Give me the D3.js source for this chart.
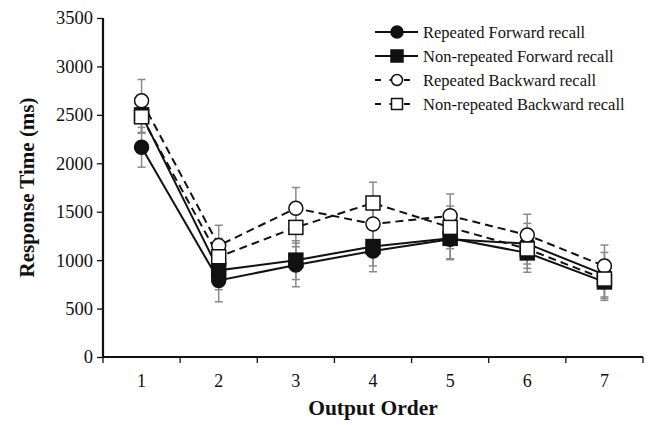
<!DOCTYPE html>
<html>
<head>
<meta charset="utf-8">
<script src="https://cdn.jsdelivr.net/npm/d3@7"></script>
<style>
  body { margin: 0; background: #fff; }
  text { font-family: "Liberation Serif", "Times New Roman", serif; }
</style>
</head>
<body>
<svg width="649" height="425"></svg>
<script>
// data
const orders = [1, 2, 3, 4, 5, 6, 7];
const yTicks = [0, 500, 1000, 1500, 2000, 2500, 3000, 3500];

const repFwd = [2165, 790, 950, 1095, 1215, 1170, 850];
const nonRepFwd = [2500, 895, 1000, 1140, 1225, 1075, 775];
const repBwd = [2645, 1150, 1535, 1373, 1458, 1259, 939];
const nonRepBwd = [2480, 1035, 1338, 1590, 1338, 1115, 805];

const repFwdErr = [205, 220, 225, 215, 210, 210, 230];
const nonRepFwdErr = [180, 200, 200, 200, 210, 200, 190];
const repBwdErr = [220, 210, 215, 200, 225, 215, 217];
const nonRepBwdErr = [170, 190, 200, 215, 220, 200, 200];

const seriesNames = ["Repeated Forward recall", "Non-repeated Forward recall",
  "Repeated Backward recall", "Non-repeated Backward recall"];

const series = [
  { name: seriesNames[0], values: repFwd, err: repFwdErr, shape: "circle", filled: true, dashed: false },
  { name: seriesNames[1], values: nonRepFwd, err: nonRepFwdErr, shape: "square", filled: true, dashed: false },
  { name: seriesNames[2], values: repBwd, err: repBwdErr, shape: "circle", filled: false, dashed: true },
  { name: seriesNames[3], values: nonRepBwd, err: nonRepBwdErr, shape: "square", filled: false, dashed: true }
];

const svg = d3.select("svg");
const margin = { left: 103, right: 6, top: 18, bottom: 68 };
const width = 649, height = 425;

const x = d3.scaleBand()
  .domain(orders)
  .range([margin.left, width - margin.right]);

const y = d3.scaleLinear()
  .domain([0, 3500])
  .range([height - margin.bottom, margin.top]);

const cx = d => x(d) + x.bandwidth() / 2;

// axes
const xAxis = svg.append("g")
  .attr("transform", `translate(0, ${y(0)})`)
  .call(d3.axisBottom(x).tickSize(0).tickPadding(17));
xAxis.select(".domain").remove();
xAxis.selectAll("text")
  .attr("font-size", 18)
  .attr("font-family", "Liberation Serif")
  .attr("fill", "#111");

// category boundary ticks
const bounds = orders.map(d => x(d)).concat([x(orders[orders.length - 1]) + x.bandwidth()]);
svg.append("g").selectAll("line")
  .data(bounds)
  .join("line")
  .attr("x1", d => d).attr("x2", d => d)
  .attr("y1", y(0)).attr("y2", y(0) + 6)
  .attr("stroke", "#111").attr("stroke-width", 1.3);

const yAxis = svg.append("g")
  .attr("transform", `translate(${margin.left}, 0)`)
  .call(d3.axisLeft(y).tickValues(yTicks).tickSize(6).tickPadding(4).tickFormat(d3.format("d")));
yAxis.select(".domain").remove();
yAxis.selectAll("line").attr("stroke", "#111").attr("stroke-width", 1.3);
yAxis.selectAll("text")
  .attr("font-size", 18.5)
  .attr("font-family", "Liberation Serif")
  .attr("fill", "#111");

svg.append("line")
  .attr("x1", margin.left).attr("x2", margin.left)
  .attr("y1", y(3500)).attr("y2", y(0))
  .attr("stroke", "#111").attr("stroke-width", 2.2);
svg.append("line")
  .attr("x1", margin.left).attr("x2", width - margin.right)
  .attr("y1", y(0)).attr("y2", y(0))
  .attr("stroke", "#111").attr("stroke-width", 2.2);

// axis titles
svg.append("text")
  .attr("x", (margin.left + width - margin.right) / 2)
  .attr("y", 415)
  .attr("text-anchor", "middle")
  .attr("font-size", 21.5)
  .attr("font-weight", "bold")
  .attr("fill", "#111")
  .text("Output Order");

svg.append("text")
  .attr("transform", `translate(34, ${y(1750)}) rotate(-90)`)
  .attr("text-anchor", "middle")
  .attr("font-size", 21)
  .attr("font-weight", "bold")
  .attr("fill", "#111")
  .text("Response Time (ms)");

// error bars
const errG = svg.append("g");
series.forEach(s => {
  orders.forEach((o, i) => {
    const px = cx(o);
    const lo = y(s.values[i] - s.err[i]);
    const hi = y(s.values[i] + s.err[i]);
    errG.append("line")
      .attr("x1", px).attr("x2", px).attr("y1", lo).attr("y2", hi)
      .attr("stroke", "#8a8a8a").attr("stroke-width", 1.5);
    [lo, hi].forEach(v => {
      errG.append("line")
        .attr("x1", px - 4).attr("x2", px + 4).attr("y1", v).attr("y2", v)
        .attr("stroke", "#8a8a8a").attr("stroke-width", 1.5);
    });
  });
});

// lines
const line = d3.line().x((d, i) => cx(orders[i])).y(d => y(d));
series.forEach(s => {
  svg.append("path")
    .datum(s.values)
    .attr("d", line)
    .attr("fill", "none")
    .attr("stroke", "#111")
    .attr("stroke-width", 2)
    .attr("stroke-dasharray", s.dashed ? "8,5" : null);
});

// markers
function drawMarker(g, s, px, py, r) {
  if (s.shape === "circle") {
    g.append("circle")
      .attr("cx", px).attr("cy", py).attr("r", r)
      .attr("fill", s.filled ? "#111" : "#fff")
      .attr("stroke", "#111").attr("stroke-width", 1.5);
  } else {
    g.append("rect")
      .attr("x", px - r).attr("y", py - r)
      .attr("width", r * 2).attr("height", r * 2)
      .attr("fill", s.filled ? "#111" : "#fff")
      .attr("stroke", "#111").attr("stroke-width", 1.5);
  }
}

const markG = svg.append("g");
series.forEach(s => {
  s.values.forEach((v, i) => drawMarker(markG, s, cx(orders[i]), y(v), 7));
});

// legend
const legend = svg.append("g");
series.forEach((s, i) => {
  const ly = 32 + i * 24;
  legend.append("line")
    .attr("x1", 375).attr("x2", 418)
    .attr("y1", ly).attr("y2", ly)
    .attr("stroke", "#111").attr("stroke-width", 2)
    .attr("stroke-dasharray", s.dashed ? "6,8.5" : null);
  drawMarker(legend, s, 397, ly, s.filled ? 6 : 5.5);
  legend.append("text")
    .attr("x", 423).attr("y", ly + 5.5)
    .attr("font-size", 16.5)
    .attr("fill", "#111")
    .text(s.name);
});
</script>
</body>
</html>
